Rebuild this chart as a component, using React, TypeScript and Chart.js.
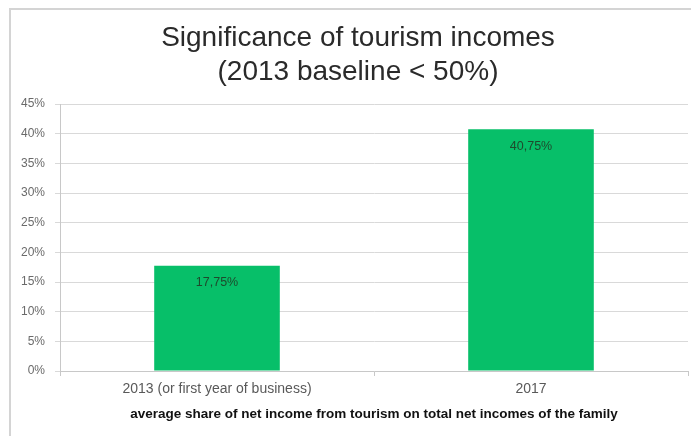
import React, { useEffect, useRef } from "react";
import { Chart, registerables } from "chart.js";

Chart.register(...registerables);

const categories = ["2013 (or first year of business)", "2017"];
const values = [17.75, 40.75];
const valueLabels = ["17,75%", "40,75%"];
const titleLines = ["Significance of tourism incomes", "(2013 baseline < 50%)"];
const xAxisTitle = "average share of net income from tourism on total net incomes of the family";

const FONT = "'Liberation Sans', Arial, sans-serif";

const framePlugin = {
  id: "frame",
  beforeDraw(chart: any) {
    const ctx = chart.ctx;
    ctx.save();
    ctx.fillStyle = "#ffffff";
    ctx.fillRect(0, 0, chart.width, chart.height);
    ctx.strokeStyle = "#d4d4d4";
    ctx.lineWidth = 2;
    ctx.beginPath();
    ctx.moveTo(10, chart.height);
    ctx.lineTo(10, 9);
    ctx.lineTo(chart.width, 9);
    ctx.stroke();
    ctx.restore();
  },
};

const titlePlugin = {
  id: "customTitle",
  afterDraw(chart: any) {
    const ctx = chart.ctx;
    ctx.save();
    ctx.font = "28px " + FONT;
    ctx.fillStyle = "#2a2a2a";
    ctx.textAlign = "center";
    ctx.textBaseline = "middle";
    const cx = (chart.width + 25) / 2;
    titleLines.forEach((line, i) => {
      ctx.fillText(line, cx, 38 + i * 34);
    });
    ctx.restore();
  },
};

const valueLabelPlugin = {
  id: "valueLabels",
  afterDatasetsDraw(chart: any) {
    const ctx = chart.ctx;
    const meta = chart.getDatasetMeta(0);
    ctx.save();
    ctx.font = "12.5px " + FONT;
    ctx.fillStyle = "#1e4a2c";
    ctx.textAlign = "center";
    ctx.textBaseline = "middle";
    meta.data.forEach((bar: any, i: number) => {
      ctx.fillText(valueLabels[i], bar.x, bar.y + 17);
    });
    ctx.restore();
  },
};

export default function App() {
  const ref = useRef<HTMLCanvasElement>(null);
  useEffect(() => {
    if (!ref.current) return;
    const chart = new Chart(ref.current, {
      type: "bar",
      data: {
        labels: categories,
        datasets: [
          {
            data: values,
            backgroundColor: "#07BF69",
            borderWidth: 0,
            barPercentage: 0.4,
            categoryPercentage: 1,
          },
        ],
      },
      options: {
        responsive: true,
        maintainAspectRatio: false,
        animation: false,
        layout: { padding: { left: 10, right: 3, top: 104, bottom: 14 } },
        plugins: {
          legend: { display: false },
          tooltip: { enabled: false },
          title: { display: false },
        },
        scales: {
          x: {
            offset: true,
            grid: {
              display: true,
              drawOnChartArea: false,
              drawTicks: true,
              tickLength: 5,
              offset: true,
              color: "#c8c8c8",
            },
            border: { display: true, color: "#c8c8c8", width: 1 },
            ticks: {
              color: "#595959",
              font: { size: 14, family: FONT },
              padding: 5,
            },
            title: {
              display: true,
              text: xAxisTitle,
              color: "#111111",
              font: { size: 13.5, weight: "bold", family: FONT },
              padding: { top: 3, bottom: 0 },
            },
          },
          y: {
            min: 0,
            max: 45,
            afterFit(scale: any) {
              scale.width = 50;
            },
            grid: {
              color: "#d9d9d9",
              drawTicks: true,
              tickLength: 5,
            },
            border: { display: true, color: "#c8c8c8", width: 1 },
            ticks: {
              stepSize: 5,
              color: "#6a6a6a",
              font: { size: 12, family: FONT },
              padding: 10,
              callback: (v: any) => v + "%",
            },
          },
        },
      },
      plugins: [framePlugin, valueLabelPlugin, titlePlugin],
    });
    return () => chart.destroy();
  }, []);
  return (
    <div style={{ position: "fixed", left: 0, top: 0, width: 691, height: 436 }}>
      <canvas ref={ref} />
    </div>
  );
}
